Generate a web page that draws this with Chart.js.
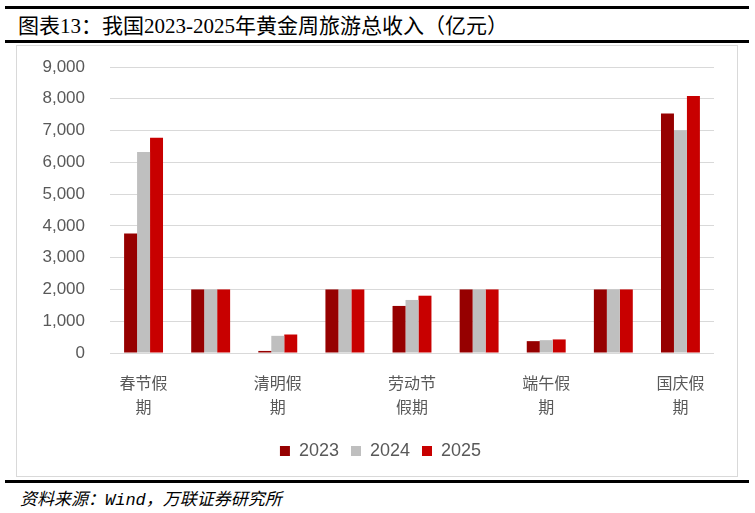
<!DOCTYPE html>
<html>
<head>
<meta charset="utf-8">
<script src="https://cdn.jsdelivr.net/npm/chart.js@4.4.1/dist/chart.umd.min.js"></script>
<style>
  body { margin: 0; background: #fff; width: 755px; height: 513px; position: relative; overflow: hidden; }
  .rule { position: absolute; left: 5px; width: 744px; height: 3px; background: #000; }
  #title { position: absolute; left: 18px; top: 9px; font: 21px "Liberation Serif", "Noto Sans CJK SC", serif; color: #000; white-space: nowrap; }
  #box { position: absolute; left: 16px; top: 45px; width: 720px; height: 430px; border: 1px solid #d9d9d9; }
  #source { position: absolute; left: 20px; top: 485px; font: italic 17px "Liberation Mono", "Noto Sans CJK SC", monospace; color: #000; white-space: nowrap; }
</style>
</head>
<body>
<div class="rule" style="top:6px"></div>
<div id="title">图表13：我国2023-2025年黄金周旅游总收入（亿元）</div>
<div class="rule" style="top:40px"></div>
<div id="box"><canvas id="myChart" width="720" height="430"></canvas></div>
<div class="rule" style="top:480px"></div>
<div id="source">资料来源：Wind，万联证券研究所</div>
<script>
// data (亿元)
const categories = [['春节假', '期'], '', ['清明假', '期'], '', ['劳动节', '假期'], '', ['端午假', '期'], '', ['国庆假', '期']];
const years = ['2023', '2024', '2025'];
const rev2023 = [3758, 2000, 65, 2000, 1481, 2000, 373, 2000, 7534];
const rev2024 = [6327, 2000, 540, 2000, 1669, 2000, 404, 2000, 7008];
const rev2025 = [6770, 2000, 582, 2000, 1803, 2000, 427, 2000, 8090];
const yTicks = [0, 1000, 2000, 3000, 4000, 5000, 6000, 7000, 8000, 9000];

const colors = ['#960000', '#bfbfbf', '#c80000'];
const series = [rev2023, rev2024, rev2025];

const data = {
  labels: categories,
  datasets: years.map((y, i) => ({
    label: y,
    data: series[i],
    backgroundColor: colors[i],
    barPercentage: 1,
    categoryPercentage: 0.58
  }))
};

// nudge the legend to the right, as in the original
const legendShift = {
  id: 'legendShift',
  afterLayout(chart) {
    chart.legend.left += 15;
    chart.legend.right += 15;
  }
};

const config = {
  type: 'bar',
  data: data,
  plugins: [legendShift],
  options: {
    responsive: false,
    animation: false,
    layout: { padding: { left: 0, right: 23, top: 21, bottom: 6 } },
    plugins: {
      legend: {
        position: 'bottom',
        labels: {
          boxWidth: 10,
          boxHeight: 10,
          padding: 12,
          color: '#595959',
          font: { family: '"Liberation Sans", Arial, sans-serif', size: 18 }
        }
      },
      tooltip: { enabled: false }
    },
    scales: {
      x: {
        grid: { display: false },
        border: { display: false },
        ticks: {
          autoSkip: false,
          maxRotation: 0,
          padding: 10,
          color: '#595959',
          font: { family: '"Noto Sans CJK SC", sans-serif', size: 16, lineHeight: 1.5 }
        },
        afterFit: (s) => { s.height = 77; }
      },
      y: {
        min: 0,
        max: 9000,
        afterBuildTicks: (s) => { s.ticks = yTicks.map(v => ({ value: v })); },
        grid: { color: '#d9d9d9', lineWidth: 1, drawTicks: false },
        border: { display: false },
        ticks: {
          padding: 25,
          color: '#595959',
          font: { family: '"Liberation Sans", Arial, sans-serif', size: 17 },
          callback: (v) => v.toLocaleString('en-US')
        },
        afterFit: (s) => { s.width = 93; s.paddingTop = 0; s.paddingBottom = 0; }
      }
    }
  }
};

const myChart = new Chart(document.getElementById('myChart'), config);
</script>
</body>
</html>
